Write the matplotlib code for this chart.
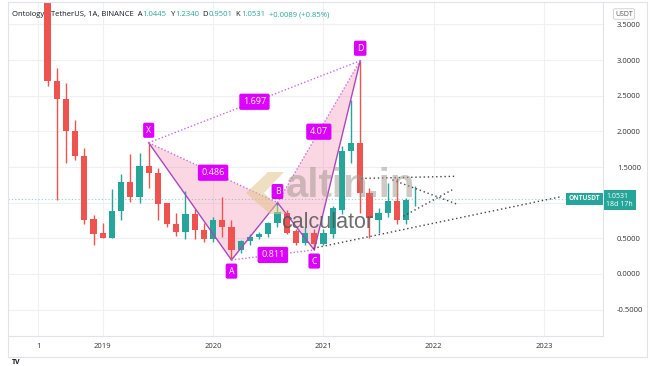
import matplotlib
matplotlib.use("Agg")
import matplotlib.pyplot as plt
import matplotlib.transforms as mtransforms
from matplotlib.patches import Polygon, Rectangle
import numpy as np

plt.rcParams['font.family'] = ['Open Sans', 'DejaVu Sans']

# monthly candles ONT/USDT, Jul 2018 .. Nov 2021 (x = month index)
opens = [4.00, 2.71, 2.45, 2.00, 1.655, 0.77, 0.575, 0.51, 0.89, 1.29, 1.08, 1.51, 1.42, 0.99,
         0.70, 0.585, 0.84, 0.62, 0.49, 0.75, 0.655, 0.34, 0.467, 0.52, 0.56, 0.71, 0.86, 0.60,
         0.43, 0.58, 0.42, 0.56, 0.90, 1.73, 1.83, 1.13, 0.76, 0.85, 1.03, 0.75, 1.0445]
highs = [4.20, 2.89, 2.68, 2.16, 1.77, 0.83, 0.72, 1.19, 1.40, 1.68, 1.70, 1.84, 1.48, 1.00,
         0.85, 1.17, 0.91, 0.72, 0.80, 1.08, 0.76, 0.48, 0.56, 0.59, 0.73, 1.00, 0.90, 0.63,
         0.66, 0.63, 0.63, 0.95, 1.80, 2.44, 2.99, 1.20, 0.92, 1.28, 1.35, 1.06, 1.234]
lows = [2.64, 1.04, 1.56, 1.60, 0.70, 0.41, 0.50, 0.50, 0.76, 1.01, 0.99, 1.20, 0.76, 0.66,
        0.53, 0.49, 0.49, 0.45, 0.45, 0.52, 0.196, 0.30, 0.40, 0.49, 0.52, 0.66, 0.56, 0.40,
        0.40, 0.337, 0.40, 0.50, 0.84, 1.55, 0.85, 0.50, 0.58, 0.80, 0.70, 0.70, 0.9501]
closes = [2.71, 2.45, 2.00, 1.655, 0.757, 0.56, 0.51, 0.89, 1.29, 1.08, 1.51, 1.42, 0.98, 0.70,
          0.585, 0.84, 0.62, 0.49, 0.75, 0.655, 0.337, 0.467, 0.52, 0.56, 0.71, 0.874, 0.58, 0.43,
          0.58, 0.42, 0.57, 0.92, 1.73, 1.83, 1.13, 0.78, 0.85, 1.03, 0.75, 1.04, 1.0531]
last_price = 1.0531

year_ticks = [-1, 6, 18, 30, 42, 54]
year_labels = ['1', '2019', '2020', '2021', '2022', '2023']
price_ticks = [-0.5, 0.0, 0.5, 1.0, 1.5, 2.0, 2.5, 3.0, 3.5]

# XABCD pattern points (month index, price)
pat_names = ['X', 'A', 'B', 'C', 'D']
pat_x = [11, 20, 25, 29, 34]
pat_y = [1.84, 0.196, 1.0, 0.337, 2.99]
ratio_from = ['X', 'A', 'B', 'X']
ratio_to = ['B', 'C', 'D', 'D']
ratio_text = ['0.486', '0.811', '4.07', '1.697']

# dotted trend lines (start month, start price, end month, end price)
tl_x0 = [34.1, 37.5, 38.7, 28.9]
tl_y0 = [1.34, 1.32, 0.81, 0.36]
tl_x1 = [44.5, 44.5, 44.0, 55.7]
tl_y1 = [1.37, 0.98, 1.18, 1.08]

GREEN = '#26a69a'
RED = '#ef5350'
MAG = '#dd00ff'

W, H = 654, 366
fig = plt.figure(figsize=(W / 100, H / 100), dpi=100)
ax = fig.add_axes([8 / W, 1 - 336 / H, (603 - 8) / W, (336 - 3) / H])

x = np.arange(len(opens))
o = np.array(opens); c = np.array(closes)
colors = [GREEN if cc >= oo else RED for oo, cc in zip(o, c)]
ax.vlines(x, lows, highs, colors=colors, linewidth=1, zorder=3)
body = np.maximum(np.abs(c - o), 0.012)
ax.bar(x, body, bottom=np.minimum(o, c), width=0.68, color=colors, zorder=3)

# pattern
pts = dict(zip(pat_names, zip(pat_x, pat_y)))
for tri in (['X', 'A', 'B'], ['B', 'C', 'D']):
    ax.add_patch(Polygon([pts[k] for k in tri], closed=True, fc='#f06292', alpha=0.25,
                         ec='none', zorder=2))
ax.plot(pat_x, pat_y, color='#ab47bc', lw=1, zorder=4)
for a, b, t in zip(ratio_from, ratio_to, ratio_text):
    (xa, ya), (xb, yb) = pts[a], pts[b]
    ax.plot([xa, xb], [ya, yb], color='#c86ee0', lw=1, ls=(0, (1, 1.5)), zorder=4)
    ax.text((xa + xb) / 2, (ya + yb) / 2, t, color='white', fontsize=6.5, ha='center',
            va='center', zorder=6,
            bbox=dict(boxstyle='round,pad=0.4,rounding_size=0.2', fc=MAG, ec='none'))
offs = {'X': 9, 'A': -8, 'B': 8, 'C': -8, 'D': 9}
for n, px, py in zip(pat_names, pat_x, pat_y):
    ax.annotate(n, (px, py), xytext=(0, offs[n]), textcoords='offset points', color='white',
                fontsize=6.3, ha='center', va='center', zorder=6,
                bbox=dict(boxstyle='round,pad=0.35,rounding_size=0.2', fc=MAG, ec='none'))

for a0, b0, a1, b1 in zip(tl_x0, tl_y0, tl_x1, tl_y1):
    ax.plot([a0, a1], [b0, b1], color='#444444', lw=1, ls=(0, (1, 2)), zorder=4)

# last price line
ax.axhline(last_price, color=GREEN, lw=0.8, ls=(0, (1, 2)), alpha=0.5, zorder=1)

ax.set_xlim(-4.3, 60.4)
ax.set_ylim(-0.87, 3.80)
ax.set_xticks(year_ticks)
ax.set_xticklabels(year_labels)
ax.set_yticks(price_ticks)
# the 1.0000 label sits under the last-price tag
ax.set_yticklabels(['' if v == 1.0 else '%.4f' % v for v in price_ticks])
ax.yaxis.tick_right()
ax.tick_params(length=0, labelsize=5.5, labelcolor='#333333')
ax.tick_params(axis='y', pad=10)
ax.tick_params(axis='x', pad=5)
ax.grid(True, color='#eef0f4', lw=0.8)
ax.set_axisbelow(True)
for s in ('top', 'left'):
    ax.spines[s].set_visible(False)
for s in ('right', 'bottom'):
    ax.spines[s].set_color('#e0e3eb')

# outer frame
fig.patches.append(Rectangle((8 / W, 1 - 357 / H), (647 - 8) / W, (357 - 2) / H,
                             transform=fig.transFigure, fill=False, ec='#e0e3eb', lw=0.8))

# labels for last price
blend = mtransforms.blended_transform_factory(ax.transAxes, ax.transData)
ax.text(0.995, last_price, 'ONTUSDT', transform=blend, ha='right', va='center', fontsize=4.8,
        color='white', fontweight='bold', zorder=7,
        bbox=dict(boxstyle='square,pad=0.4', fc=GREEN, ec='none'))
ax.annotate('1.0531\n18d 17h', xy=(1.0, last_price), xycoords=blend, xytext=(2.5, 4.5),
            textcoords='offset points', ha='left', va='top', fontsize=5, color='white',
            linespacing=1.2, annotation_clip=False, zorder=7,
            bbox=dict(boxstyle='square,pad=0.4', fc=GREEN, ec='none'))

# USDT box
fig.text(624 / W, 1 - 14 / H, 'USDT', ha='center', va='center', fontsize=5, color='#555555',
         bbox=dict(boxstyle='round,pad=0.25', fc='white', ec='#cccccc', lw=0.6))

# header legend
pieces = [('Ontology / TetherUS, 1A, BINANCE  A', '#131722'), ('1.0445', GREEN),
          ('  Y', '#131722'), ('1.2340', GREEN), ('  D', '#131722'), ('0.9501', GREEN),
          ('  K', '#131722'), ('1.0531', GREEN), ('  +0.0089 (+0.85%)', GREEN)]
t = ax.text(12 / W, 1 - 16 / H, pieces[0][0], transform=fig.transFigure, fontsize=5.5,
            color=pieces[0][1], zorder=1)
for s, col in pieces[1:]:
    t = ax.annotate(s, xy=(1, 0), xycoords=t, va='bottom', ha='left', fontsize=5.5,
                    color=col, zorder=1, annotation_clip=False)

# watermark
ax.text(286 / W, 1 - 197 / H, 'altin.in', transform=fig.transFigure, fontsize=29,
        fontweight='bold', color='#9e958c', alpha=0.5, family='Liberation Sans',
        va='baseline', zorder=5)
ax.text(281 / W, 1 - 228 / H, 'calculator', transform=fig.transFigure, fontsize=15.5,
        color='#555555', alpha=0.85, family='Liberation Sans', va='baseline', zorder=5)
logo = [(246, 193), (268, 172), (284, 172), (264, 193), (286, 214), (270, 214)]
fig.patches.append(Polygon([(px / W, 1 - py / H) for px, py in logo], closed=True,
                           transform=fig.transFigure, fc='#e3c48c', alpha=0.55, ec='none'))

fig.text(12 / W, 1 - 363 / H, 'TV', fontsize=5, fontweight='bold', color='#131722',
         va='center')

fig.savefig('out.png', dpi=100, facecolor='white')
